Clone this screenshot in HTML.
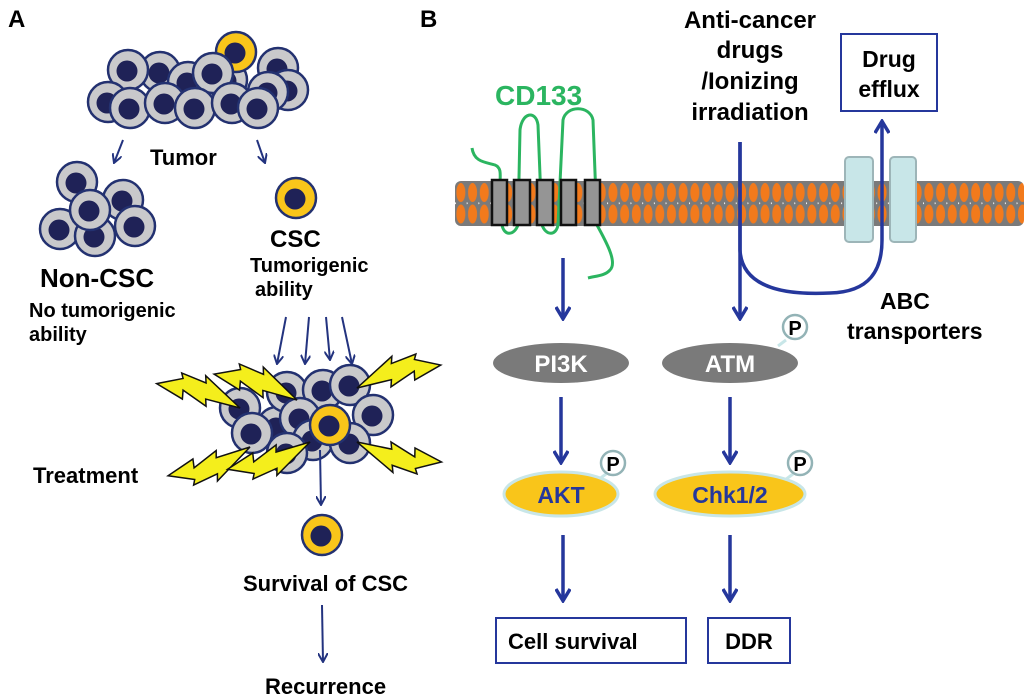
<!DOCTYPE html>
<html><head><meta charset="utf-8"><style>
html,body{margin:0;padding:0;background:#fff}
svg{display:block}
text{font-family:"Liberation Sans",sans-serif;font-weight:bold}
</style></head><body>
<svg width="1024" height="697" viewBox="0 0 1024 697" xmlns="http://www.w3.org/2000/svg">
<defs>
<g id="gc"><circle r="20" fill="#c9c9cb" stroke="#233170" stroke-width="2.5"/><circle cx="-1" cy="1" r="10.5" fill="#1f2257"/></g>
<g id="yc"><circle r="20" fill="#f9c51a" stroke="#233170" stroke-width="2.5"/><circle cx="-1" cy="1" r="10.5" fill="#1f2257"/></g>
<polygon id="bolt" points="0,0 34,-10 30,-16 58,-14 54,-22 84,-22 64,-4 68,0 42,4 46,10" fill="#f4ee1c" stroke="#111" stroke-width="1.5" stroke-linejoin="miter"/>
<marker id="ah" viewBox="0 0 10 10" refX="9" refY="5" markerWidth="5" markerHeight="5" orient="auto" markerUnits="strokeWidth"><path d="M0,0 L9,5 L0,10" fill="none" stroke="#23337f" stroke-width="2"/></marker>
<marker id="ah2" viewBox="0 0 10 10" refX="8" refY="5" markerWidth="4.5" markerHeight="4.5" orient="auto" markerUnits="strokeWidth"><path d="M1,0.5 L8.5,5 L1,9.5" fill="none" stroke="#25379c" stroke-width="2.2"/></marker>
<pattern id="lip" x="455" y="181" width="11.7" height="45" patternUnits="userSpaceOnUse">
<rect width="11.7" height="45" fill="#7a7a7a"/>
<ellipse cx="5.85" cy="11.5" rx="4.5" ry="9.5" fill="#f27a1c"/>
<ellipse cx="5.85" cy="33" rx="4.5" ry="9.5" fill="#f27a1c"/>
<circle cx="0" cy="22.3" r="1" fill="#fff"/>
</pattern>
</defs>

<!-- Panel A -->
<text x="8" y="27" font-size="24">A</text>
<use href="#gc" x="160" y="72"/><use href="#gc" x="188" y="82"/><use href="#gc" x="227" y="80"/>
<use href="#yc" x="236" y="52"/><use href="#gc" x="278" y="68"/><use href="#gc" x="288" y="90"/>
<use href="#gc" x="128" y="70"/><use href="#gc" x="213" y="73"/><use href="#gc" x="268" y="92"/>
<use href="#gc" x="108" y="102"/><use href="#gc" x="130" y="108"/><use href="#gc" x="165" y="103"/>
<use href="#gc" x="195" y="108"/><use href="#gc" x="232" y="103"/><use href="#gc" x="258" y="108"/>
<line x1="123" y1="140" x2="114" y2="163" stroke="#23337f" stroke-width="2" marker-end="url(#ah)"/>
<line x1="257" y1="140" x2="265" y2="163" stroke="#23337f" stroke-width="2" marker-end="url(#ah)"/>
<text x="150" y="165" font-size="22">Tumor</text>
<use href="#gc" x="77" y="182"/><use href="#gc" x="123" y="200"/><use href="#gc" x="60" y="229"/>
<use href="#gc" x="95" y="236"/><use href="#gc" x="135" y="226"/><use href="#gc" x="90" y="210"/>
<text x="40" y="287" font-size="26">Non-CSC</text>
<text x="29" y="317" font-size="20">No tumorigenic</text>
<text x="29" y="341" font-size="20">ability</text>
<use href="#yc" x="296" y="198"/>
<text x="270" y="247" font-size="24">CSC</text>
<text x="250" y="272" font-size="20">Tumorigenic</text>
<text x="255" y="296" font-size="20">ability</text>
<line x1="286" y1="317" x2="277" y2="364" stroke="#23337f" stroke-width="2" marker-end="url(#ah)"/>
<line x1="309" y1="317" x2="305" y2="364" stroke="#23337f" stroke-width="2" marker-end="url(#ah)"/>
<line x1="326" y1="317" x2="330" y2="360" stroke="#23337f" stroke-width="2" marker-end="url(#ah)"/>
<line x1="342" y1="317" x2="352" y2="364" stroke="#23337f" stroke-width="2" marker-end="url(#ah)"/>
<use href="#gc" x="240" y="408"/><use href="#gc" x="277" y="427"/><use href="#gc" x="287" y="392"/>
<use href="#gc" x="323" y="390"/><use href="#gc" x="350" y="385"/><use href="#gc" x="300" y="418"/>
<use href="#gc" x="373" y="415"/><use href="#gc" x="313" y="440"/><use href="#gc" x="350" y="443"/>
<use href="#gc" x="287" y="453"/><use href="#gc" x="252" y="433"/>
<use href="#yc" x="330" y="425"/>
<use href="#bolt" transform="translate(240,408) rotate(211)"/>
<use href="#bolt" transform="translate(297,400) rotate(212)"/>
<use href="#bolt" transform="translate(357,388) rotate(-30) scale(1,-1)"/>
<use href="#bolt" transform="translate(250,447) rotate(146) scale(1,-1)"/>
<use href="#bolt" transform="translate(310,442) rotate(147) scale(1,-1)"/>
<use href="#bolt" transform="translate(357,442) rotate(28)"/>
<text x="33" y="483" font-size="22">Treatment</text>
<line x1="320" y1="450" x2="321" y2="505" stroke="#23337f" stroke-width="2" marker-end="url(#ah)"/>
<use href="#yc" x="322" y="535"/>
<text x="243" y="591" font-size="22">Survival of CSC</text>
<line x1="322" y1="605" x2="323" y2="662" stroke="#23337f" stroke-width="2" marker-end="url(#ah)"/>
<text x="265" y="694" font-size="22">Recurrence</text>

<!-- Panel B -->
<text x="420" y="27" font-size="24">B</text>
<text x="495" y="105" font-size="28" fill="#2bb560">CD133</text>
<rect x="455" y="181" width="569" height="45" fill="url(#lip)" rx="6"/>
<path d="M472,148 C474,162 485,162 495,165 C502,168 500,175 500,185 L502,225 C504,236 514,236 518,225 L520,130 C522,112 536,110 538,125 L542,225 C546,236 556,236 558,225 L563,120 C566,105 590,105 593,120 L597,225 C605,240 618,262 610,270 C605,276 595,276 588,278" fill="none" stroke="#2bb560" stroke-width="3"/>
<g fill="#959595" stroke="#111" stroke-width="2.5">
<rect x="492" y="180" width="15" height="45"/><rect x="514" y="180" width="16" height="45"/>
<rect x="537" y="180" width="16" height="45"/><rect x="561" y="180" width="15" height="45"/>
<rect x="585" y="180" width="15" height="45"/>
</g>
<rect x="845" y="157" width="28" height="85" rx="4" fill="#c8e6e8" stroke="#9db5b8" stroke-width="2"/>
<rect x="890" y="157" width="26" height="85" rx="4" fill="#c8e6e8" stroke="#9db5b8" stroke-width="2"/>

<g text-anchor="middle" font-size="24">
<text x="750" y="28">Anti-cancer</text>
<text x="750" y="58">drugs</text>
<text x="750" y="89">/Ionizing</text>
<text x="750" y="120">irradiation</text>
</g>
<rect x="841" y="34" width="96" height="77" fill="#fff" stroke="#25379c" stroke-width="2"/>
<text x="889" y="67" font-size="23" text-anchor="middle">Drug</text>
<text x="889" y="97" font-size="23" text-anchor="middle">efflux</text>

<path d="M740,142 L740,250 C742,290 790,295 830,293 C870,292 882,270 882,240 L882,122" fill="none" stroke="#25379c" stroke-width="3.5" marker-end="url(#ah2)"/>
<line x1="740" y1="142" x2="740" y2="318" stroke="#25379c" stroke-width="3.5" marker-end="url(#ah2)"/>
<line x1="563" y1="258" x2="563" y2="318" stroke="#25379c" stroke-width="3.5" marker-end="url(#ah2)"/>
<text x="880" y="309" font-size="23">ABC</text>
<text x="847" y="339" font-size="23">transporters</text>

<ellipse cx="561" cy="363" rx="68" ry="20" fill="#7a7a7a"/>
<text x="561" y="372" font-size="24" fill="#fff" text-anchor="middle">PI3K</text>
<line x1="786" y1="340" x2="778" y2="346" stroke="#c8e6e8" stroke-width="3"/>
<ellipse cx="730" cy="363" rx="68" ry="20" fill="#7a7a7a"/>
<text x="730" y="372" font-size="24" fill="#fff" text-anchor="middle">ATM</text>
<circle cx="795" cy="327" r="12" fill="#fff" stroke="#93b3b6" stroke-width="2.5"/>
<text x="795" y="335" font-size="20" text-anchor="middle">P</text>

<line x1="561" y1="397" x2="561" y2="462" stroke="#25379c" stroke-width="3.5" marker-end="url(#ah2)"/>
<line x1="730" y1="397" x2="730" y2="462" stroke="#25379c" stroke-width="3.5" marker-end="url(#ah2)"/>

<line x1="606" y1="474" x2="598" y2="480" stroke="#c8e6e8" stroke-width="3"/>
<line x1="793" y1="474" x2="785" y2="480" stroke="#c8e6e8" stroke-width="3"/>
<ellipse cx="561" cy="494" rx="57" ry="22" fill="#f9c51a" stroke="#c8e6e8" stroke-width="3"/>
<text x="561" y="503" font-size="23" fill="#25379c" text-anchor="middle">AKT</text>
<circle cx="613" cy="463" r="12" fill="#fff" stroke="#93b3b6" stroke-width="2.5"/>
<text x="613" y="471" font-size="20" text-anchor="middle">P</text>
<ellipse cx="730" cy="494" rx="75" ry="22" fill="#f9c51a" stroke="#c8e6e8" stroke-width="3"/>
<text x="730" y="503" font-size="23" fill="#25379c" text-anchor="middle">Chk1/2</text>
<circle cx="800" cy="463" r="12" fill="#fff" stroke="#93b3b6" stroke-width="2.5"/>
<text x="800" y="471" font-size="20" text-anchor="middle">P</text>

<line x1="563" y1="535" x2="563" y2="600" stroke="#25379c" stroke-width="3.5" marker-end="url(#ah2)"/>
<line x1="730" y1="535" x2="730" y2="600" stroke="#25379c" stroke-width="3.5" marker-end="url(#ah2)"/>
<rect x="496" y="618" width="190" height="45" fill="#fff" stroke="#25379c" stroke-width="2"/>
<text x="508" y="649" font-size="22">Cell survival</text>
<rect x="708" y="618" width="82" height="45" fill="#fff" stroke="#25379c" stroke-width="2"/>
<text x="749" y="649" font-size="22" text-anchor="middle">DDR</text>
</svg>
</body></html>
